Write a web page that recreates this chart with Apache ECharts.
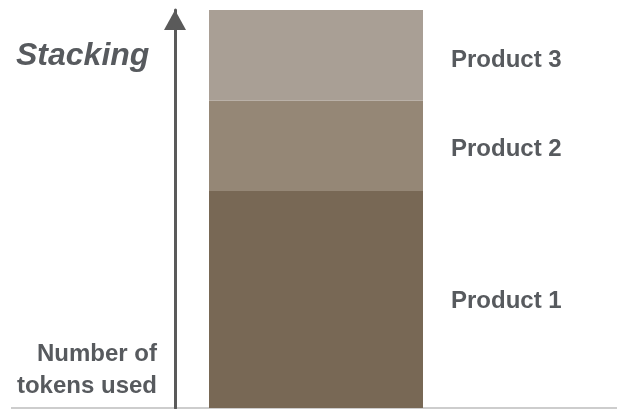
<!DOCTYPE html>
<html>
<head>
<meta charset="utf-8">
<script src="https://cdn.jsdelivr.net/npm/echarts@6/dist/echarts.min.js"></script>
<style>
  html, body { margin: 0; padding: 0; background: #fff; }
  #chart { width: 617px; height: 409px; }
</style>
</head>
<body>
<div id="chart"></div>
<script>
// One stacked column: token usage split by product
const categories = ['Tokens'];
const productNames = ['Product 1', 'Product 2', 'Product 3'];
const product1 = [2.4];
const product2 = [1.0];
const product3 = [1.0];
const seriesValues = [product1, product2, product3];
const segmentColors = ['#786855', '#958776', '#a99f95'];
const labelOffsets = [[0, 2], [0, 4], [0, 5]];

const textColor = '#575a5e';
const fontFamily = '"Liberation Sans", Arial, sans-serif';

const chart = echarts.init(document.getElementById('chart'), null, { renderer: 'canvas' });

chart.setOption({
  animation: false,
  backgroundColor: '#ffffff',
  grid: { left: 175, width: 282, top: 10, bottom: 1, containLabel: false },
  xAxis: {
    type: 'category',
    data: categories,
    axisLine: { show: false },
    axisTick: { show: false },
    axisLabel: { show: false }
  },
  yAxis: {
    type: 'value',
    min: 0,
    max: 4.4,
    splitLine: { show: false },
    axisTick: { show: false },
    axisLabel: { show: false },
    axisLine: {
      show: true,
      symbol: ['none', 'triangle'],
      symbolSize: [22, 20],
      symbolOffset: [0, -10],
      lineStyle: { color: '#5a5a5a', width: 3 }
    }
  },
  series: seriesValues.map((vals, i) => ({
    name: productNames[i],
    type: 'bar',
    stack: 'total',
    barWidth: 214,
    data: vals,
    itemStyle: { color: segmentColors[i] },
    label: {
      show: true,
      position: 'right',
      distance: 28,
      offset: labelOffsets[i],
      formatter: '{a}',
      color: textColor,
      fontFamily: fontFamily,
      fontWeight: 'bold',
      fontSize: 24
    }
  })),
  graphic: [
    {
      type: 'line',
      shape: { x1: 11, y1: 408, x2: 617, y2: 408 },
      style: { stroke: '#bdbdbd', lineWidth: 1.5 },
      z: 0
    },
    {
      type: 'text',
      left: 16,
      top: 40,
      style: {
        text: 'Stacking',
        fill: textColor,
        font: 'italic bold 32px ' + fontFamily
      }
    },
    {
      type: 'text',
      x: 157,
      y: 338,
      style: {
        text: 'Number of\ntokens used',
        fill: textColor,
        align: 'right',
        lineHeight: 32,
        font: 'bold 24px ' + fontFamily
      }
    }
  ]
});
</script>
</body>
</html>
